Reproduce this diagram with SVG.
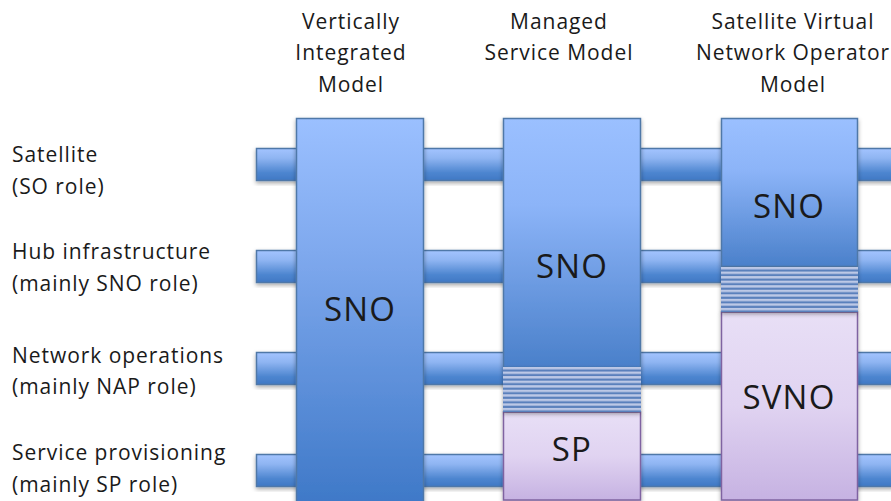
<svg xmlns="http://www.w3.org/2000/svg" width="891" height="501" viewBox="0 0 891 501">
<style>
text{font-family:"Open Sans","Noto Sans","DejaVu Sans",sans-serif;fill:#1a1a1a}
.h{font-size:21px;text-anchor:middle;letter-spacing:.95px}
.l{font-size:21px;letter-spacing:.95px}
.n{font-size:33px;text-anchor:middle;letter-spacing:1.2px}
.bar{fill:url(#barG);stroke:#4f78a8;stroke-width:1.5;filter:url(#sh)}
.blue{stroke:#4f78a8;stroke-width:1.5;filter:url(#sh)}
.pur{stroke:#7f63a1;stroke-width:1.5;filter:url(#sh)}
.ov{fill:url(#st);filter:url(#sh)}
</style>
<defs>
<linearGradient id="barG" x1="0" y1="0" x2="0" y2="1"><stop offset="0" stop-color="#a3c4ff"/><stop offset=".3" stop-color="#8fb5f2"/><stop offset=".75" stop-color="#4e86d0"/><stop offset="1" stop-color="#3f78c4"/></linearGradient>
<linearGradient id="b1" gradientUnits="userSpaceOnUse" x1="0" y1="118" x2="0" y2="501"><stop offset="0" stop-color="#9bc0ff"/><stop offset=".35" stop-color="#7fa9ee"/><stop offset="1" stop-color="#3f79c8"/></linearGradient>
<linearGradient id="b2" gradientUnits="userSpaceOnUse" x1="0" y1="118" x2="0" y2="367"><stop offset="0" stop-color="#9bc0ff"/><stop offset=".35" stop-color="#8cb4f8"/><stop offset="1" stop-color="#4a80ca"/></linearGradient>
<linearGradient id="b3" gradientUnits="userSpaceOnUse" x1="0" y1="118" x2="0" y2="267"><stop offset="0" stop-color="#9bc0ff"/><stop offset=".35" stop-color="#8cb4f8"/><stop offset="1" stop-color="#4a80ca"/></linearGradient>
<linearGradient id="p" x1="0" y1="0" x2="0" y2="1"><stop offset="0" stop-color="#e8dff6"/><stop offset=".5" stop-color="#e0d3f1"/><stop offset="1" stop-color="#c6b2e2"/></linearGradient>
<pattern id="st" patternUnits="userSpaceOnUse" x="0" y="367" width="8" height="4.545"><rect width="8" height="4.545" fill="#bcc8e6"/><rect y="2.4" width="8" height="2.145" fill="#5a80bc"/></pattern>
<filter id="sh" x="-10%" y="-10%" width="120%" height="125%"><feDropShadow dx="0" dy="2" stdDeviation="2" flood-color="#000" flood-opacity=".35"/></filter>
</defs>
<rect width="891" height="501" fill="#fff"/>
<g id="connectors">
<rect class="bar" x="256.500" y="148.500" width="640" height="32"/>
<rect class="bar" x="256.500" y="250.500" width="640" height="32"/>
<rect class="bar" x="256.500" y="352.500" width="640" height="32"/>
<rect class="bar" x="256.500" y="454.500" width="640" height="32"/>
</g>
<g id="column-headers">
<text class="h" x="351" y="29">Vertically</text><text class="h" x="351" y="60">Integrated</text><text class="h" x="351" y="92">Model</text>
<text class="h" x="559" y="29">Managed</text><text class="h" x="559" y="60">Service Model</text>
<text class="h" x="793" y="29">Satellite Virtual</text><text class="h" x="793" y="60">Network Operator</text><text class="h" x="793" y="92">Model</text>
</g>
<g id="row-labels">
<text class="l" x="12" y="162">Satellite</text><text class="l" x="12" y="194">(SO role)</text>
<text class="l" x="12" y="259">Hub infrastructure</text><text class="l" x="12" y="291">(mainly SNO role)</text>
<text class="l" x="12" y="363">Network operations</text><text class="l" x="12" y="394">(mainly NAP role)</text>
<text class="l" x="12" y="460">Service provisioning</text><text class="l" x="12" y="492">(mainly SP role)</text>
</g>
<g id="vi-sno"><rect class="blue" x="296.500" y="118.500" width="127" height="390" fill="url(#b1)"/><text class="n" x="360" y="321">SNO</text></g>
<g id="ms-sp"><rect class="pur" x="503.500" y="412" width="137" height="88" fill="url(#p)"/><text class="n" x="572" y="461">SP</text></g>
<g id="ms-sno"><rect class="blue" x="503.500" y="118.500" width="137" height="249" fill="url(#b2)"/><text class="n" x="572" y="278">SNO</text></g>
<g id="ms-overlap"><rect class="ov" x="503" y="367" width="138" height="45"/></g>
<g id="sv-svno"><rect class="pur" x="721.500" y="312" width="136" height="188" fill="url(#p)"/><text class="n" x="789" y="409">SVNO</text></g>
<g id="sv-sno"><rect class="blue" x="721.500" y="118.500" width="136" height="148" fill="url(#b3)"/><text class="n" x="789" y="218">SNO</text></g>
<g id="sv-overlap"><rect class="ov" x="721" y="267" width="137" height="45"/></g>
</svg>
